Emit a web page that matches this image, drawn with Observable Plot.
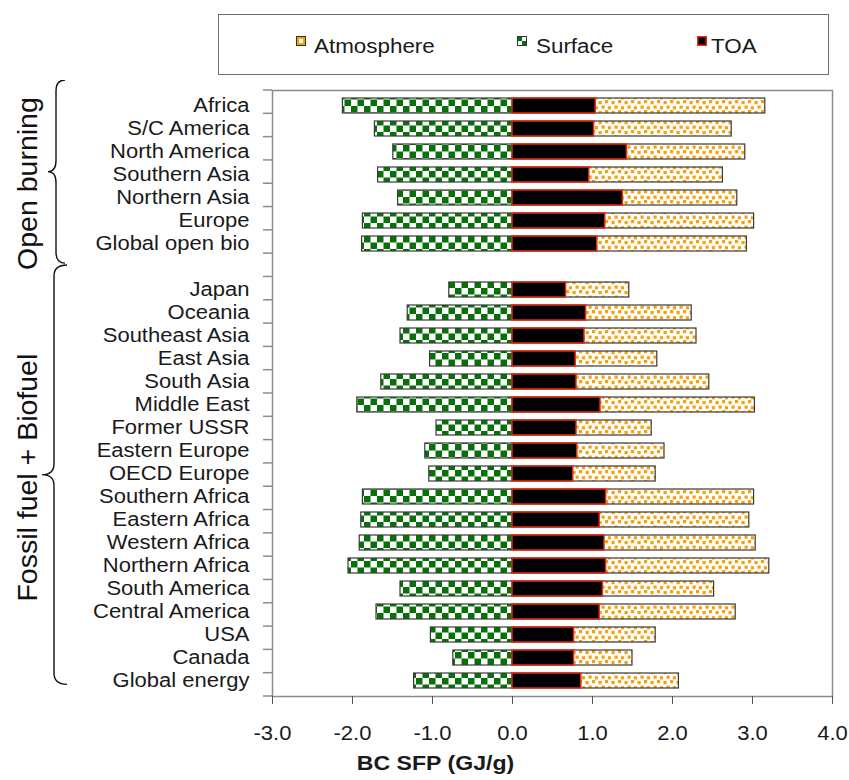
<!DOCTYPE html>
<html>
<head>
<meta charset="utf-8">
<script src="https://cdn.jsdelivr.net/npm/d3@7"></script>
<script src="https://cdn.jsdelivr.net/npm/@observablehq/plot@0.6"></script>
<style>
  body { margin: 0; background: #fff; font-family: "Liberation Sans", Arial, sans-serif; color: #1a1a1a; }
  #wrap { position: relative; width: 849px; height: 780px; overflow: hidden; }
  #legend { position: relative; height: 80px; }
  #lbox { position: absolute; left: 218px; top: 14px; width: 611px; height: 61px; box-sizing: border-box; border: 1.5px solid #6e6e6e; }
  .sw { position: absolute; top: 36px; width: 10px; height: 10px; }
  .lt { position: absolute; top: 36px; font-size: 20px; line-height: 20px; transform: scaleX(1.12); transform-origin: left center; white-space: nowrap; color: #1a1a1a; }
</style>
</head>
<body>
<svg width="0" height="0" style="position:absolute">
  <defs>
    <pattern id="checker" patternUnits="userSpaceOnUse" width="13" height="13">
      <rect width="13" height="13" fill="#fff"/>
      <rect width="6.5" height="6.5" fill="#087008"/>
      <rect x="6.5" y="6.5" width="6.5" height="6.5" fill="#087008"/>
    </pattern>
    <pattern id="dots" patternUnits="userSpaceOnUse" width="13" height="10">
      <rect width="13" height="10" fill="#fff"/>
      <rect x="0.5" y="1" width="3.2" height="3.2" fill="#f6a10a"/>
      <rect x="7" y="0" width="3.2" height="3.2" fill="#f6a10a"/>
      <rect x="3.5" y="5.5" width="3.2" height="3.2" fill="#f6a10a"/>
      <rect x="9.8" y="6.2" width="3.2" height="3.2" fill="#f6a10a"/>
    </pattern>
  </defs>
</svg>
<div id="wrap">
  <div id="legend">
    <div id="lbox"></div>
    <svg class="sw" style="left:296px" viewBox="0 0 10 10"><rect x="0.5" y="0.5" width="9" height="9" fill="#f6a10a" stroke="#333" stroke-width="1"/><rect x="3" y="3" width="4" height="4" fill="#fff"/></svg>
    <span class="lt" style="left:314px">Atmosphere</span>
    <svg class="sw" style="left:517px" viewBox="0 0 10 10"><rect x="0.5" y="0.5" width="9" height="9" fill="#087008" stroke="#333" stroke-width="1"/><rect x="5" y="1" width="4" height="4" fill="#fff"/><rect x="1" y="5" width="4" height="4" fill="#fff"/></svg>
    <span class="lt" style="left:536px">Surface</span>
    <svg class="sw" style="left:697px" viewBox="0 0 10 10"><rect x="0.75" y="0.75" width="8.5" height="8.5" fill="#000" stroke="#e82a0c" stroke-width="1.5"/></svg>
    <span class="lt" style="left:711px">TOA</span>
  </div>
  <div id="chart"></div>
</div>
<script>
// ---- data ----
const openCats = ["Africa", "S/C America", "North America", "Southern Asia", "Northern Asia", "Europe", "Global open bio"];
const fossilCats = ["Japan", "Oceania", "Southeast Asia", "East Asia", "South Asia", "Middle East", "Former USSR", "Eastern Europe", "OECD Europe", "Southern Africa", "Eastern Africa", "Western Africa", "Northern Africa", "South America", "Central America", "USA", "Canada", "Global energy"];
const categories = [...openCats, ...fossilCats];
const surfaceVals = [-2.12, -1.72, -1.49, -1.68, -1.43, -1.87, -1.88,
  -0.79, -1.31, -1.40, -1.03, -1.64, -1.94, -0.95, -1.09, -1.04, -1.87, -1.89, -1.91, -2.05, -1.40, -1.70, -1.02, -0.74, -1.23];
const atmosphereVals = [3.16, 2.74, 2.91, 2.63, 2.81, 3.02, 2.93,
  1.46, 2.24, 2.30, 1.81, 2.46, 3.03, 1.74, 1.90, 1.79, 3.02, 2.96, 3.04, 3.21, 2.52, 2.79, 1.79, 1.50, 2.08];
const toaVals = [1.04, 1.02, 1.43, 0.96, 1.38, 1.16, 1.06,
  0.67, 0.92, 0.90, 0.79, 0.80, 1.10, 0.80, 0.81, 0.76, 1.17, 1.09, 1.15, 1.17, 1.13, 1.09, 0.77, 0.77, 0.86];
const xTicks = [-3, -2, -1, 0, 1, 2, 3, 4];
const groupLabels = ["Open burning", "Fossil fuel + Biofuel"];
const axisTitle = "BC SFP (GJ/g)";

const gap = " ";
const yDomain = [...openCats, gap, ...fossilCats];
const rows = categories.map((name, i) => ({name, surface: surfaceVals[i], atm: atmosphereVals[i], toa: toaVals[i]}));

const plot = Plot.plot({
  width: 849,
  height: 700,
  marginTop: 10,
  marginBottom: 84,
  marginLeft: 272,
  marginRight: 17,
  style: {fontFamily: "'Liberation Sans', Arial, sans-serif", fontSize: "20px", color: "#1a1a1a", background: "#fff"},
  x: {domain: [-3, 4]},
  y: {domain: yDomain, paddingInner: 0.33, paddingOuter: 0.165},
  marks: [
    Plot.frame({stroke: "#8c8c8c", strokeWidth: 1.5}),
    Plot.barX(rows, {y: "name", x1: 0, x2: "atm", fill: "url(#dots)", stroke: "#3a3a3a", strokeWidth: 1.2}),
    Plot.barX(rows, {y: "name", x1: "surface", x2: 0, fill: "url(#checker)", stroke: "#3a3a3a", strokeWidth: 1.2}),
    Plot.barX(rows, {y: "name", x1: 0, x2: "toa", fill: "#000", stroke: "#e82a0c", strokeWidth: 1.5}),
    Plot.axisY({ticks: categories, tickSize: 0, tickPadding: 23, fontSize: 20, label: null, color: "#1a1a1a"}),
    Plot.axisX({ticks: xTicks, tickFormat: d => d.toFixed(1), tickSize: 8, tickPadding: 21, fontSize: 20, label: null, color: "#1a1a1a", stroke: "#555"}),
    Plot.text([axisTitle], {frameAnchor: "bottom", dx: -117, dy: 67, lineAnchor: "middle", fontSize: 21, fontWeight: "bold", fill: "#1a1a1a"})
  ]
});
document.getElementById("chart").appendChild(plot);

// stretch horizontal text (the reference is widened horizontally)
d3.select(plot).selectAll("text").each(function() {
  const L = this.getComputedTextLength();
  if (L > 0) { this.setAttribute("textLength", L * 1.1); this.setAttribute("lengthAdjust", "spacingAndGlyphs"); }
});

// y ticks at band boundaries, braces and group labels
const ys = plot.scale("y");
const xs = plot.scale("x");
const [r0, r1] = ys.range;
const n = ys.domain.length;
const step = (r1 - r0) / n;
const left = xs.apply(-3);
const svg = d3.select(plot);
const g = svg.append("g");
for (let i = 0; i <= n; i++) {
  const yy = r0 + i * step;
  g.append("line").attr("x1", left - 9).attr("x2", left).attr("y1", yy).attr("y2", yy).attr("stroke", "#8c8c8c").attr("stroke-width", 1.5);
}
function brace(xL, tip, end, yTop, yBot) {
  const yMid = (yTop + yBot) / 2;
  return `M${end},${yTop} Q${xL},${yTop} ${xL},${yTop + 11} L${xL},${yMid - 11} Q${xL},${yMid} ${tip},${yMid} Q${xL},${yMid} ${xL},${yMid + 11} L${xL},${yBot - 11} Q${xL},${yBot} ${end},${yBot}`;
}
const open0 = r0 - 10, open1 = r0 + openCats.length * step + 10;
const fos0 = r0 + (openCats.length + 1) * step - 11.5, fos1 = r0 + (n - 0.5) * step;
g.append("path").attr("d", brace(56, 48, 65, open0, open1)).attr("fill", "none").attr("stroke", "#111").attr("stroke-width", 1.4);
g.append("path").attr("d", brace(54, 42, 67, fos0, fos1)).attr("fill", "none").attr("stroke", "#111").attr("stroke-width", 1.4);
const centers = [(open0 + open1) / 2 + 12, (fos0 + fos1) / 2 + 3];
groupLabels.forEach((t, i) => {
  g.append("text").attr("transform", `translate(27,${centers[i]}) rotate(-90)`)
    .attr("text-anchor", "middle").attr("dy", "0.35em")
    .attr("font-size", 28.5).attr("fill", "#111").text(t);
});
</script>
</body>
</html>
